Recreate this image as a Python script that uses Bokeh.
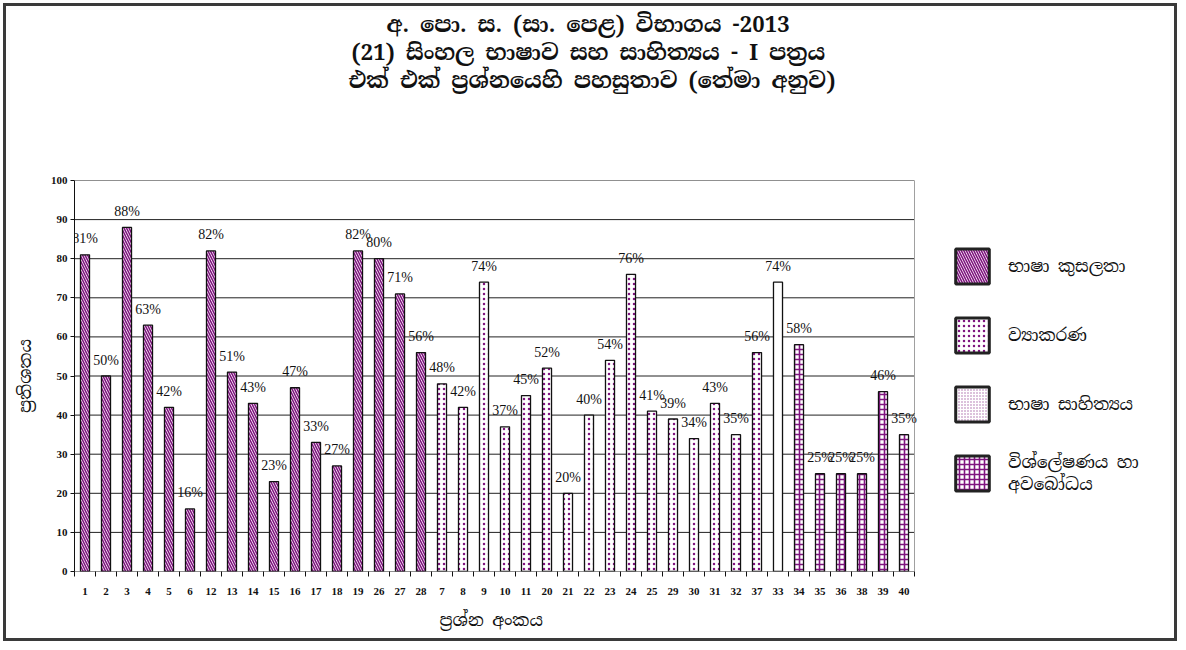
from bokeh.plotting import figure
from bokeh.models import (ColumnDataSource, FixedTicker, Legend, LegendItem, Title, Range1d)
from bokeh.core.properties import value
from bokeh.embed import file_html
from bokeh.resources import INLINE

# ---------------- data ----------------
questions = [1, 2, 3, 4, 5, 6, 12, 13, 14, 15, 16, 17, 18, 19, 26, 27, 28,
             7, 8, 9, 10, 11, 20, 21, 22, 23, 24, 25, 29, 30, 31, 32, 37,
             33,
             34, 35, 36, 38, 39, 40]
percent = [81, 50, 88, 63, 42, 16, 82, 51, 43, 23, 47, 33, 27, 82, 80, 71, 56,
           48, 42, 74, 37, 45, 52, 20, 40, 54, 76, 41, 39, 34, 43, 35, 56,
           74,
           58, 25, 25, 25, 46, 35]
themes = ["K", "K", "K", "K", "K", "K", "K", "K", "K", "K", "K", "K", "K", "K", "K", "K", "K",
          "V", "V", "V", "V", "V", "V", "V", "V", "V", "V", "V", "V", "V", "V", "V", "V",
          "S",
          "A", "A", "A", "A", "A", "A"]
theme_codes = ["K", "V", "S", "A"]
theme_labels = ["භාෂා කුසලතා", "ව්‍යාකරණ", "භාෂා සාහිත්‍යය", "විශ්ලේෂණය හා\nඅවබෝධය"]
y_ticks = [0, 10, 20, 30, 40, 50, 60, 70, 80, 90, 100]

title_lines = ["අ. පො. ස. (සා. පෙළ) විභාගය -2013",
               "(21) සිංහල භාෂාව සහ සාහිත්‍යය - I පත්‍රය",
               "එක් එක් ප්‍රශ්නයෙහි පහසුතාව (තේමා අනුව)"]
x_title = "ප්‍රශ්න අංකය"
y_title = "ප්‍රතිශතය"

# ---------------- styles / layout ----------------
PURPLE = "#7f147f"
SIN_FONT = "Noto Serif Sinhala, Noto Sans Sinhala, Liberation Serif, serif"
SERIF = "Liberation Serif"

CANVAS_W, CANVAS_H = 1174, 638
LEFT, RIGHT, TOP, BOTTOM = 68, 4, 174, 73
FRAME_W = CANVAS_W - LEFT - RIGHT
CAT_PX = 21.0
title_offsets = [312, 277, 274]
x_title_offset = 365

bar_styles = {
    "K": dict(hatch_pattern="left_diagonal_line", hatch_color=PURPLE, hatch_scale=5, hatch_weight=1.6),
    "V": dict(hatch_pattern="dot", hatch_color=PURPLE, hatch_scale=5, hatch_weight=3),
    "S": dict(hatch_pattern=" "),
    "A": dict(hatch_pattern="cross", hatch_color=PURPLE, hatch_scale=5, hatch_weight=1.6),
}
legend_styles = dict(bar_styles)
legend_styles["S"] = dict(hatch_pattern="dot", hatch_color="#a865a8", hatch_scale=3, hatch_weight=1.2)

positions = list(range(1, len(questions) + 1))
BAR_W = 0.43
x_lo = positions[0] - 0.5
x_hi = positions[-1] + 0.5

p = figure(width=CANVAS_W, height=CANVAS_H, title=None,
           x_range=Range1d(x_lo, x_lo + FRAME_W / CAT_PX), y_range=Range1d(0, 100),
           output_backend="svg", toolbar_location=None,
           min_border_left=LEFT, min_border_right=RIGHT, min_border_top=TOP, min_border_bottom=BOTTOM,
           styles={"border": "3px solid #3a3a3a", "margin": "3px"})
p.background_fill_color = "white"
p.border_fill_color = "white"
p.outline_line_color = None

# horizontal grid lines limited to the category area
p.xgrid.visible = False
p.ygrid.visible = False
p.segment(x0=[x_lo] * len(y_ticks), y0=y_ticks, x1=[x_hi] * len(y_ticks), y1=y_ticks,
          line_color="#222222", line_width=1, level="underlay")
p.segment(x0=[x_hi], y0=[y_ticks[0]], x1=[x_hi], y1=[y_ticks[-1]],
          line_color="#a0a0a0", line_width=1, level="underlay")

for code in theme_codes:
    idx = [i for i, t in enumerate(themes) if t == code]
    src = ColumnDataSource(dict(x=[positions[i] for i in idx], top=[percent[i] for i in idx]))
    p.vbar(x="x", top="top", width=BAR_W, bottom=0, source=src,
           fill_color="white", line_color="#111111", line_width=1.3, **bar_styles[code])

legend_items = []
for code, lab in zip(theme_codes, theme_labels):
    r = p.vbar(x=[-10], top=[0], width=BAR_W, fill_color="white", line_color="#222222",
               line_width=3, **legend_styles[code])
    legend_items.append(LegendItem(label=lab, renderers=[r]))

p.text(x=positions, y=percent, text=[f"{v}%" for v in percent],
       text_align="center", text_baseline="middle", y_offset=-16,
       text_font=value(SERIF), text_font_size="14px", text_color="#111111")

# y axis
p.yaxis.ticker = FixedTicker(ticks=y_ticks)
p.yaxis.major_tick_out = 4
p.yaxis.major_tick_in = 0
p.yaxis.minor_tick_line_color = None
p.yaxis.axis_line_color = "#111111"
p.yaxis.major_tick_line_color = "#111111"
p.yaxis.major_label_text_font = SERIF
p.yaxis.major_label_text_font_style = "bold"
p.yaxis.major_label_text_font_size = "11px"
p.yaxis.major_label_text_color = "#111111"
p.yaxis.major_label_standoff = 3
p.yaxis.axis_label = y_title
p.yaxis.axis_label_text_font = SIN_FONT
p.yaxis.axis_label_text_font_style = "normal"
p.yaxis.axis_label_text_font_size = "17px"
p.yaxis.axis_label_text_color = "#111111"
p.yaxis.axis_label_standoff = 12

# x axis
boundaries = [pos - 0.5 for pos in positions] + [x_hi]
p.xaxis.ticker = FixedTicker(ticks=positions, minor_ticks=boundaries)
p.xaxis.major_label_overrides = {pos: str(q) for pos, q in zip(positions, questions)}
p.xaxis.major_tick_out = 0
p.xaxis.major_tick_in = 0
p.xaxis.minor_tick_out = 5
p.xaxis.minor_tick_in = 0
p.xaxis.minor_tick_line_color = "#111111"
p.xaxis.axis_line_color = None
p.xaxis.major_label_text_font = SERIF
p.xaxis.major_label_text_font_style = "bold"
p.xaxis.major_label_text_font_size = "11px"
p.xaxis.major_label_text_color = "#111111"
p.xaxis.major_label_standoff = 11

p.add_layout(Title(text=x_title, align="left", offset=x_title_offset, standoff=18,
                   vertical_align="bottom",
                   text_font=SIN_FONT, text_font_size="17px", text_font_style="normal",
                   text_color="#111111"), "below")

# titles (spacer first, nearest the frame; later ones stack above)
p.add_layout(Title(text=" ", standoff=60, text_font_size="22px"), "above")
for line, off in reversed(list(zip(title_lines, title_offsets))):
    p.add_layout(Title(text=line, align="left", offset=off, standoff=-3,
                       text_font=SIN_FONT, text_font_size="22px", text_font_style="bold",
                       text_color="#111111"), "above")

legend = Legend(items=legend_items, location=(877, 76), orientation="vertical",
                glyph_width=42, glyph_height=44, spacing=25, label_standoff=15,
                padding=0, margin=0, border_line_color=None, background_fill_alpha=0,
                label_text_font=SIN_FONT, label_text_font_size="17px",
                label_text_color="#111111")
p.add_layout(legend)

open("out.html", "w").write(file_html(p, INLINE))
